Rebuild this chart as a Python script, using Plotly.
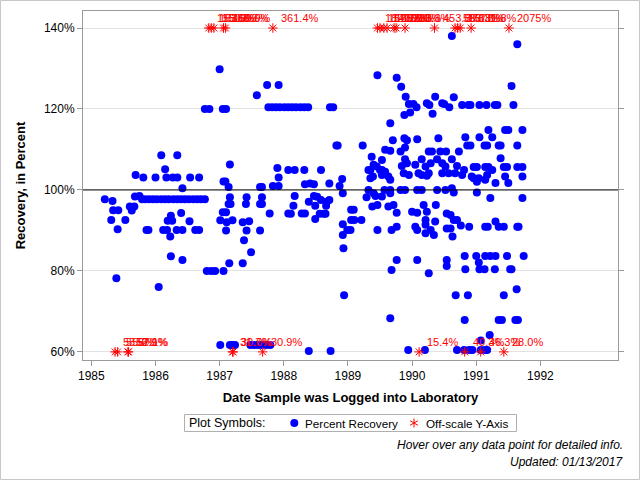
import math
import plotly.graph_objects as go

FONT = "Liberation Sans, Arial, sans-serif"

# ---------------- data: (decimal year of log-in date, percent recovery) ----------------
rec_dates = [
    # 1985 - 1986
    1985.21, 1985.33, 1985.34, 1985.42, 1985.31, 1985.53, 1985.41, 1985.39, 1985.60, 1985.67, 1985.63, 1985.68, 1985.75,
    1985.79, 1985.84, 1985.90, 1985.96, 1986.02, 1986.09, 1986.15, 1986.21, 1986.28, 1986.34, 1986.40, 1986.46, 1986.52,
    1986.59, 1986.65, 1986.71, 1986.77,
    1985.69, 1985.81, 1986.00, 1986.17, 1986.27, 1986.34, 1986.54, 1986.68,
    1986.09, 1986.34, 1986.15, 1986.42, 1986.40, 1986.24, 1986.19, 1986.26, 1986.53,
    1985.86, 1985.89, 1986.12, 1986.18, 1986.33, 1986.42, 1986.62, 1986.68,
    1986.23, 1986.24, 1986.42, 1986.05,
    # 1987 - 1988
    1986.77, 1986.84, 1987.05, 1987.10,
    1987.00, 1987.58, 1987.74, 1987.92,
    1987.76, 1987.82, 1987.88, 1987.94, 1988.01, 1988.07, 1988.13, 1988.19, 1988.26, 1988.32, 1988.38, 1988.72, 1988.77,
    1987.16, 1987.06, 1987.09, 1987.14, 1987.63, 1987.66, 1987.83, 1987.92, 1987.90, 1987.92, 1988.07, 1988.17,
    1987.16, 1987.42, 1987.66, 1988.17,
    1987.14, 1987.17, 1987.41, 1987.63, 1987.66, 1988.15,
    1987.05, 1987.10, 1987.78, 1988.07, 1988.11,
    1987.01, 1987.11, 1987.20, 1987.36, 1987.46,
    1987.10, 1987.42, 1987.63,
    1987.38, 1987.49,
    1986.80, 1986.87, 1986.93, 1987.06,
    1987.15, 1987.36,
    1987.01, 1987.16, 1987.19, 1987.24, 1987.48, 1987.54, 1987.60, 1987.66, 1987.73, 1987.79,
    1988.39, 1988.73,
    # 1988 - 1989.5
    1988.32, 1988.58, 1988.33, 1988.41, 1988.47, 1988.71, 1988.91, 1988.87, 1988.92,
    1988.39, 1988.47, 1988.52, 1988.58, 1988.67, 1988.71, 1988.49, 1988.66,
    1988.28, 1988.33, 1988.56, 1988.62, 1988.65, 1988.49,
    1988.82, 1988.84, 1989.23, 1989.46, 1989.37, 1989.40, 1989.32, 1989.35, 1989.50, 1989.35, 1989.39,
    1989.05, 1989.09, 1989.05, 1989.10, 1989.21, 1989.29, 1989.32, 1989.38, 1989.46, 1989.40, 1989.43, 1989.46,
    1988.92, 1988.92, 1988.99, 1988.93, 1988.94, 1989.04,
    # 1989.5 - 1990.6
    1989.76, 1989.83, 1989.90, 1989.95, 1990.02, 1990.07, 1989.88, 1989.97, 1990.23, 1990.27, 1990.36, 1990.32,
    1990.47, 1990.50, 1990.58, 1990.65,
    1989.66, 1989.70, 1989.88, 1989.92, 1990.08, 1990.41,
    1989.58, 1989.66, 1989.82, 1989.89, 1990.26, 1990.31, 1990.44, 1990.53,
    1989.53, 1989.45, 1989.89, 1989.92, 1990.05, 1990.15, 1990.21, 1990.29, 1990.39, 1990.47, 1990.52, 1989.84,
    1989.53, 1989.58, 1989.53, 1989.87, 1989.95, 1990.10, 1990.26, 1990.47, 1989.63, 1989.66, 1990.15, 1990.23,
    1989.57, 1989.66, 1989.82, 1989.89, 1990.08, 1990.15, 1990.39, 1990.52,
    1989.53, 1989.66, 1989.63, 1989.71, 1989.76, 1990.00, 1990.08, 1990.18, 1990.23, 1990.37, 1990.54,
    1989.68, 1989.76, 1990.05, 1990.08, 1990.21, 1990.21, 1990.29, 1990.36, 1990.54, 1990.21, 1990.34,
    1989.76, 1989.68, 1990.08, 1990.26, 1990.54, 1990.54, 1989.66, 1989.94, 1990.20,
    # 1990.6 - 1991.8
    1990.62, 1991.64, 1991.55,
    1990.78, 1990.88, 1990.91, 1991.05, 1991.16, 1991.29, 1991.33, 1991.58,
    1991.19, 1991.45, 1991.50, 1991.72,
    1990.83, 1991.05, 1991.25,
    1990.86, 1990.91, 1991.13, 1991.17, 1991.35, 1991.38, 1991.64,
    1990.73, 1991.38, 1990.62, 1990.70, 1990.81,
    1990.96, 1991.01, 1991.14, 1991.19, 1991.43, 1991.48, 1991.64, 1991.72,
    1990.57, 1990.67, 1990.78, 1990.93, 1991.04, 1991.17, 1991.25, 1991.30, 1991.45, 1991.50, 1991.72, 1990.96,
    1991.01, 1991.14,
    1990.62, 1990.65, 1991.01, 1991.22, 1991.72,
    1990.60, 1990.65, 1990.70, 1990.76, 1990.60, 1990.63,
    1990.89, 1991.14, 1991.18, 1991.35, 1991.43, 1991.64, 1991.66, 1991.30,
    1990.82, 1991.00, 1991.14, 1991.22, 1991.30, 1991.48, 1991.74,
    1991.04,
    1990.83, 1991.05, 1991.13, 1991.29, 1991.53, 1991.55,
    1990.68, 1990.87, 1991.43, 1991.63,
    1990.82, 1991.35, 1991.40, 1991.61, 1991.65,
    1991.21, 1991.07,
    1990.70, 1990.81, 1990.89, 1990.94, 1991.07, 1991.14, 1991.17,
]

rec_pct = [
    97.7, 97.3, 95.0, 95.0, 92.6, 92.6, 90.3, 78.2, 95.9, 95.9, 94.9, 98.4, 98.5,
    97.7, 97.7, 97.7, 97.7, 97.7, 97.7, 97.7, 97.7, 97.7, 97.7, 97.7, 97.7, 97.7,
    97.7, 97.7, 97.7, 97.7,
    103.7, 103.1, 103.1, 103.1, 103.1, 103.1, 103.1, 103.1,
    108.6, 108.6, 105.1, 100.4, 94.3, 93.6, 92.4, 92.4, 92.3,
    90.1, 90.1, 90.1, 90.1, 90.1, 90.1, 90.1, 90.1,
    88.5, 83.6, 82.7, 76.0,
    120.0, 120.0, 120.0, 120.0,
    129.8, 123.4, 125.9, 125.9,
    120.4, 120.4, 120.4, 120.4, 120.4, 120.4, 120.4, 120.4, 120.4, 120.4, 120.4, 120.4, 120.4,
    106.3, 102.1, 102.1, 100.7, 100.7, 100.7, 101.0, 101.0, 105.4, 103.1, 104.9, 104.9,
    98.2, 98.2, 98.2, 98.5,
    96.5, 96.5, 96.5, 96.5, 96.5, 96.1,
    94.5, 94.5, 94.2, 94.2, 94.1,
    92.5, 92.0, 92.5, 92.0, 92.3,
    90.0, 90.0, 90.0,
    87.6, 84.6,
    80.0, 80.0, 80.0, 80.0,
    81.9, 81.9,
    61.7, 61.7, 61.7, 61.7, 61.7, 61.7, 61.7, 61.7, 61.7, 61.7,
    60.2, 60.2,
    104.9, 104.9, 101.4, 101.6, 101.4, 101.6, 102.7, 101.0, 99.2,
    97.1, 98.5, 98.3, 97.5, 97.1, 97.5, 96.1, 96.1,
    94.2, 94.2, 94.1, 94.1, 94.1, 92.8,
    111.0, 111.0, 111.0, 128.3, 108.2, 106.2, 104.9, 104.9, 104.9, 102.9, 103.3,
    95.1, 95.1, 92.6, 92.6, 92.6, 98.2, 100.0, 95.9, 96.3, 99.2, 98.5, 90.1,
    91.5, 88.9, 90.1, 85.6, 74.0, 90.1,
    127.7, 125.5, 123.0, 121.2, 121.2, 120.4, 118.5, 119.1, 121.4, 121.0, 123.0, 118.8,
    121.4, 121.2, 120.4, 122.9,
    116.5, 112.3, 112.8, 112.3, 112.5, 112.8,
    109.9, 109.7, 109.5, 110.5, 109.5, 109.5, 109.5, 109.5,
    107.4, 105.8, 107.6, 106.6, 106.2, 107.6, 105.8, 106.6, 107.6, 106.6, 105.8, 105.9,
    104.9, 104.5, 103.7, 104.1, 103.7, 104.1, 104.1, 104.1, 103.3, 102.5, 103.7, 103.5,
    100.0, 100.0, 100.0, 100.0, 100.0, 100.0, 100.0, 100.0,
    98.4, 99.2, 95.9, 96.3, 94.4, 94.6, 94.4, 96.3, 94.6, 96.3, 94.2,
    90.1, 90.9, 90.9, 90.1, 92.6, 91.4, 90.1, 92.2, 90.5, 89.3, 88.9,
    82.7, 80.2, 82.7, 79.4, 82.7, 81.2, 68.3, 60.5, 60.5,
    138.0, 136.0, 125.7,
    121.0, 121.0, 121.0, 121.0, 121.0, 121.0, 121.0, 121.0,
    114.8, 114.8, 114.8, 114.8,
    113.0, 113.0, 113.0,
    111.0, 111.0, 111.0, 111.0, 111.0, 111.0, 111.0,
    109.5, 107.8, 107.6, 105.9, 104.9,
    105.7, 105.7, 105.7, 105.7, 105.7, 105.7, 105.7, 105.7,
    104.1, 104.1, 103.7, 103.3, 102.9, 103.7, 104.9, 101.7, 103.3, 101.7, 103.3, 102.9,
    102.0, 102.5,
    100.4, 99.4, 99.4, 98.0, 98.0,
    93.8, 92.6, 92.6, 91.2, 90.5, 88.5,
    90.9, 90.9, 90.9, 90.9, 90.9, 90.9, 90.9, 92.2,
    83.7, 83.7, 83.7, 83.7, 83.7, 83.7, 83.7,
    82.1,
    80.4, 80.4, 80.4, 80.4, 80.4, 80.4,
    74.0, 74.0, 74.0, 75.5,
    67.9, 67.9, 67.9, 67.9, 67.9,
    64.2, 62.8,
    60.5, 60.5, 60.5, 60.5, 60.5, 60.5, 60.5,
]

# off-scale results (shown at the axis limit with their true value as a label)
high_dates = [1986.83, 1986.87, 1986.91, 1987.06, 1987.09, 1987.83,
              1989.46, 1989.50, 1989.56, 1989.61, 1989.72, 1989.75, 1989.89,
              1990.35, 1990.67, 1990.71, 1990.75, 1990.92, 1991.51]
high_labels = ["155.6%", "163.0%", "150.0%", "166.7%", "150.9%", "361.4%",
               "182.5%", "157.1%", "140.7%", "166.7%", "175.0%", "150.0%", "233.3%",
               "453.8%", "583.3%", "378.8%", "157.1%", "181.8%", "2075%"]
low_dates = [1985.37, 1985.41, 1985.57, 1985.58, 1987.20, 1987.21, 1987.67,
             1990.11, 1990.82, 1991.07, 1991.43]
low_labels = ["58.6%", "55.6%", "52.9%", "57.1%", "31.7%", "30.0%", "30.9%",
              "15.4%", "40.3%", "46.3%", "28.0%"]

Y_HIGH = 140
Y_LOW = 60
y_ticks = [60, 80, 100, 120, 140]
x_ticks = [1985, 1986, 1987, 1988, 1989, 1990, 1991, 1992]

off_dates = high_dates + low_dates
off_y = [Y_HIGH] * len(high_dates) + [Y_LOW] * len(low_dates)
off_labels = high_labels + low_labels

fig = go.Figure()
fig.add_trace(go.Scatter(
    x=rec_dates, y=rec_pct, mode="markers", name="Percent Recovery", showlegend=False,
    marker=dict(color="#0000FF", size=8, line=dict(width=0)),
    hovertemplate="Date: %{x:.2f}<br>Recovery: %{y:.1f}%<extra></extra>"))
fig.add_trace(go.Scatter(
    x=off_dates, y=off_y, mode="markers", name="Off-scale Y-Axis", showlegend=False,
    marker=dict(symbol="asterisk-open", color="#FF0000", size=8,
                line=dict(color="#FF0000", width=1)),
    text=off_labels, hovertemplate="Date: %{x:.2f}<br>Recovery: %{text}<extra></extra>"))

W, H = 640, 480
L, R, T, B = 83, 22, 11, 120
pw, ph = W - L - R, H - T - B


def px(xp):
    return (xp - L) / pw


def py(yp):
    return (H - B - yp) / ph


annotations = []
for d, yv, lab in zip(off_dates, off_y, off_labels):
    annotations.append(dict(x=d, y=yv, xref="x", yref="y", text=lab, showarrow=False,
                            xanchor="left", yanchor="middle", xshift=6, yshift=10,
                            font=dict(color="#FF0000", size=11)))

annotations += [
    dict(text="Hover over any data point for detailed info.", xref="paper", yref="paper",
         x=px(625), y=py(445), xanchor="right", yanchor="middle", showarrow=False,
         font=dict(size=12, style="italic", color="black")),
    dict(text="Updated: 01/13/2017", xref="paper", yref="paper",
         x=px(625), y=py(462), xanchor="right", yanchor="middle", showarrow=False,
         font=dict(size=12, style="italic", color="black")),
    # legend texts
    dict(text="Plot Symbols:", xref="paper", yref="paper", x=px(187), y=py(423),
         xanchor="left", yanchor="middle", showarrow=False, font=dict(size=12.5)),
    dict(text="Percent Recovery", xref="paper", yref="paper", x=px(303), y=py(423),
         xanchor="left", yanchor="middle", showarrow=False, font=dict(size=11.7)),
    dict(text="Off-scale Y-Axis", xref="paper", yref="paper", x=px(424), y=py(423),
         xanchor="left", yanchor="middle", showarrow=False, font=dict(size=11.7)),
]

shapes = [
    dict(type="line", xref="paper", yref="y", x0=0, x1=1, y0=100, y1=100,
         line=dict(color="black", width=1)),
    dict(type="rect", xref="paper", yref="paper", x0=px(0.5), x1=px(639.5),
         y0=py(479.5), y1=py(0.5), line=dict(color="#c8c8c8", width=1)),
    # legend box and symbols
    dict(type="rect", xref="paper", yref="paper", x0=px(184.5), x1=px(516.5),
         y0=py(431.5), y1=py(414.5), line=dict(color="#b0b0b0", width=1)),
    dict(type="circle", xref="paper", yref="paper", x0=px(290.3), x1=px(298.3),
         y0=py(427), y1=py(419), fillcolor="#0000FF", line=dict(color="#0000FF", width=0)),
]
cx, cy, r = 414, 423, 4.5
for ang in (90, 30, -30):
    dx = r * math.cos(math.radians(ang))
    dy = r * math.sin(math.radians(ang))
    shapes.append(dict(type="line", xref="paper", yref="paper",
                       x0=px(cx - dx), x1=px(cx + dx), y0=py(cy + dy), y1=py(cy - dy),
                       line=dict(color="#FF0000", width=1)))

fig.update_layout(
    width=W, height=H, margin=dict(l=L, r=R, t=T, b=B),
    paper_bgcolor="white", plot_bgcolor="white",
    font=dict(family=FONT, size=12, color="black"),
    showlegend=False,
    annotations=annotations,
    shapes=shapes,
)
fig.update_xaxes(
    range=[1984.87, 1993.21], tickvals=x_ticks, ticktext=[str(v) for v in x_ticks],
    showgrid=False, zeroline=False, showline=True, linecolor="#9a9a9a", linewidth=1,
    mirror=True, ticks="outside", ticklen=5, tickcolor="#9a9a9a", automargin=False,
    tickfont=dict(size=12),
    title=dict(text="<b>Date Sample was Logged into Laboratory</b>", font=dict(size=13), standoff=10))
fig.update_yaxes(
    range=[58.0, 144.2], tickvals=y_ticks, ticktext=[f"{v}%" for v in y_ticks],
    showgrid=True, gridcolor="#e2e2e2", zeroline=False, showline=True, linecolor="#9a9a9a",
    linewidth=1, mirror="ticks", ticks="outside", ticklen=5, tickcolor="#9a9a9a",
    automargin=False, tickfont=dict(size=12),
    title=dict(text="<b>Recovery, in Percent</b>", font=dict(size=13), standoff=15))

fig.write_html("out.html")
